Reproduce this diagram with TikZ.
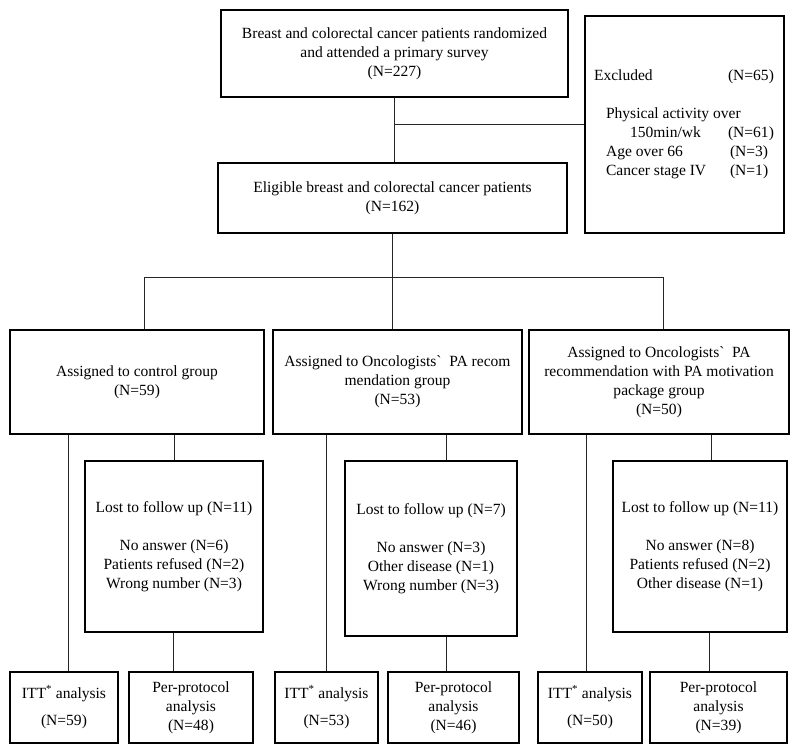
\documentclass[tikz,border=0pt]{standalone}
\usepackage{fontspec}
\setmainfont{Liberation Serif}
\usepackage{tikz}
\usetikzlibrary{positioning}
\newcommand{\ittstar}{ITT\textsuperscript{*} analysis}
\newcommand{\oncgrave}{Oncologists\textasciigrave\ \ PA}

\begin{document}
\begin{tikzpicture}[box/.style={draw, line width=1.6bp, align=center, inner sep=0pt},
                    link/.style={line width=0.8bp, draw=black!85},
                    every node/.append style={font=\fontsize{15.6}{19}\selectfont}]
  \useasboundingbox (0bp,0bp) rectangle (800bp,-754bp);
  % Boxes
  \node (random) at (394.5bp, -53.5bp) [box, minimum width=347bp, minimum height=87bp]
    {Breast and colorectal cancer patients randomized\\ and attended a primary survey\\ (N=227)};
  \node (excl) at (684.5bp, -124.5bp) [box, minimum width=199bp, minimum height=217bp]
    {\hspace{11bp}\begin{tabular}{@{}p{122bp}@{}l@{}}
      \hspace{-12bp}Excluded & (N=65)\\[19bp]
      \multicolumn{2}{@{}l@{}}{Physical activity over}\\
      \hspace{24bp}150min/wk & (N=61)\\
      Age over 66 & \hspace{2bp}(N=3)\\
      Cancer stage IV & \hspace{2bp}(N=1)
    \end{tabular}};
  \node (elig) at (392.5bp, -198bp) [box, minimum width=349bp, minimum height=70bp]
    {Eligible breast and colorectal cancer patients\\ (N=162)};

  \node (grp1) at (137bp, -382bp) [box, minimum width=254bp, minimum height=104bp]
    {Assigned to control group\\ (N=59)};
  \node (grp2) at (397.5bp, -382bp) [box, minimum width=249bp, minimum height=104bp]
    {Assigned to \oncgrave\ recom\\ mendation group\\ (N=53)};
  \node (grp3) at (659bp, -382bp) [box, minimum width=260bp, minimum height=104bp]
    {Assigned to \oncgrave\\ recommendation with PA motivation\\ package group\\ (N=50)};

  \node (lost1) at (174bp, -546.5bp) [box, minimum width=178bp, minimum height=171bp]
    {Lost to follow up (N=11)\\[19bp] No answer (N=6)\\ Patients refused (N=2)\\ Wrong number (N=3)};
  \node (lost2) at (431bp, -548.5bp) [box, minimum width=172bp, minimum height=175bp]
    {Lost to follow up (N=7)\\[19bp] No answer (N=3)\\ Other disease (N=1)\\ Wrong number (N=3)};
  \node (lost3) at (700bp, -546.5bp) [box, minimum width=174bp, minimum height=171bp]
    {Lost to follow up (N=11)\\[19bp] No answer (N=8)\\ Patients refused (N=2)\\ Other disease (N=1)};

  \node (itt1) at (64bp, -707.5bp) [box, minimum width=108bp, minimum height=71bp] {\ittstar\\[9bp] (N=59)};
  \node (pp1) at (191bp, -707.5bp) [box, minimum width=124bp, minimum height=71bp] {Per-protocol\\ analysis\\ (N=48)};
  \node (itt2) at (326.5bp, -707.5bp) [box, minimum width=103bp, minimum height=71bp] {\ittstar\\[9bp] (N=53)};
  \node (pp2) at (453.5bp, -707.5bp) [box, minimum width=131bp, minimum height=71bp] {Per-protocol\\ analysis\\ (N=46)};
  \node (itt3) at (590bp, -707.5bp) [box, minimum width=104bp, minimum height=71bp] {\ittstar\\[9bp] (N=50)};
  \node (pp3) at (718.5bp, -707.5bp) [box, minimum width=137bp, minimum height=71bp] {Per-protocol\\ analysis\\ (N=39)};

  \coordinate (forkL) at (144bp, -277bp);
  \coordinate (forkR) at (663bp, -277bp);

  % Lines
  \draw[link] (random.south) -- (random.south |- elig.north);
  \draw[link] (random.south |- excl.west) -- (excl.west);
  \draw[link] (elig.south) -- (elig.south |- grp2.north);
  \draw[link] (forkL |- grp1.north) -- (forkL) -- (forkR) -- (forkR |- grp3.north);

  \draw[link] ([xshift=4bp]itt1.north |- grp1.south) -- ([xshift=4bp]itt1.north);
  \draw[link] (lost1.north |- grp1.south) -- (lost1.north);
  \draw[link] ([xshift=-1bp]lost1.south) -- ([xshift=-1bp]lost1.south |- pp1.north);

  \draw[link] (itt2.north |- grp2.south) -- (itt2.north);
  \draw[link] ([xshift=15bp]lost2.north |- grp2.south) -- ([xshift=15bp]lost2.north);
  \draw[link] ([xshift=15bp]lost2.south) -- ([xshift=15bp]lost2.south |- pp2.north);

  \draw[link] ([xshift=-4bp]itt3.north |- grp3.south) -- ([xshift=-4bp]itt3.north);
  \draw[link] ([xshift=11bp]lost3.north |- grp3.south) -- ([xshift=11bp]lost3.north);
  \draw[link] ([xshift=9bp]lost3.south) -- ([xshift=9bp]lost3.south |- pp3.north);
\end{tikzpicture}
\end{document}
